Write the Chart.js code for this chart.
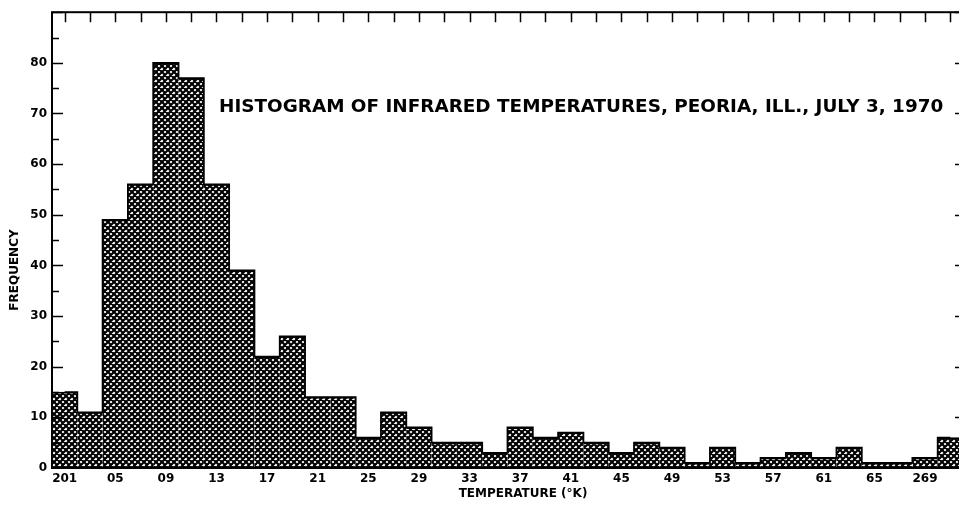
<!DOCTYPE html>
<html>
<head>
<meta charset="utf-8">
<script src="https://cdn.jsdelivr.net/npm/chart.js@4/dist/chart.umd.min.js"></script>
<style>
html, body { margin: 0; padding: 0; background: #fff; overflow: hidden; }
</style>
</head>
<body>
<canvas id="histChart" width="980" height="511"></canvas>
<script>
// Bin centres (deg K), 2-degree bins
const bins = ["201", "203", "205", "207", "209", "211", "213", "215", "217", "219",
              "221", "223", "225", "227", "229", "231", "233", "235", "237", "239",
              "241", "243", "245", "247", "249", "251", "253", "255", "257", "259",
              "261", "263", "265", "267", "269", "271"];

const counts = [15, 11, 49, 56, 80, 77, 56, 39, 22, 26,
                14, 14, 6, 11, 8, 5, 5, 3, 8, 6,
                7, 5, 3, 5, 4, 1, 4, 1, 2, 3,
                2, 4, 1, 1, 2, 6];

// Labels printed under every other bin
const tickLabels = ["201", "05", "09", "13", "17", "21", "25", "29", "33",
                    "37", "41", "45", "49", "53", "57", "61", "65", "269"];

const chartTitle = "HISTOGRAM OF INFRARED TEMPERATURES, PEORIA, ILL., JULY 3, 1970";
const xTitle = "TEMPERATURE (°K)";
const yTitle = "FREQUENCY";

const FONT = "'DejaVu Sans', sans-serif";

// Cross-hatch fill (two sets of 45 degree lines)
function makeHatch() {
    const s = 6;
    const tile = document.createElement("canvas");
    tile.width = s;
    tile.height = s;
    const tctx = tile.getContext("2d");
    tctx.fillStyle = "#fff";
    tctx.fillRect(0, 0, s, s);
    tctx.strokeStyle = "#000";
    tctx.lineWidth = 2.2;
    tctx.beginPath();
    for (let k = -2; k <= 2; k++) {
        tctx.moveTo(k * s - s, -s);
        tctx.lineTo(k * s + 2 * s, 2 * s);
        tctx.moveTo(k * s - s, 2 * s);
        tctx.lineTo(k * s + 2 * s, -s);
    }
    tctx.stroke();
    return tctx.createPattern(tile, "repeat");
}

// Frame, inward ticks and text
const framePlugin = {
    id: "frame",
    afterDraw(chart) {
        const { ctx, chartArea: a, scales } = chart;
        const x = scales.x, y = scales.y;
        ctx.save();
        ctx.strokeStyle = "#000";
        ctx.lineWidth = 2;
        ctx.strokeRect(a.left, a.top, a.right - a.left, a.bottom - a.top);

        ctx.lineWidth = 1.5;
        ctx.beginPath();
        // top ticks, one per bin
        bins.forEach((b, i) => {
            const px = Math.round(x.getPixelForValue(i)) + 0.5;
            ctx.moveTo(px, a.top);
            ctx.lineTo(px, a.top + 10);
        });
        // left / right ticks
        y.ticks.forEach(t => {
            if (t.value === 0) return;
            const py = Math.round(y.getPixelForValue(t.value)) + 0.5;
            const major = t.value % 10 === 0;
            ctx.moveTo(a.left, py);
            ctx.lineTo(a.left + (major ? 11 : 7), py);
            if (major) {
                ctx.moveTo(a.right, py);
                ctx.lineTo(a.right - 8, py);
            }
        });
        ctx.stroke();

        ctx.fillStyle = "#000";
        ctx.font = "bold 18.4px " + FONT;
        ctx.textAlign = "left";
        ctx.textBaseline = "middle";
        ctx.fillText(chartTitle, 219, 107);

        ctx.font = "bold 12px " + FONT;
        ctx.textAlign = "center";
        ctx.fillText(xTitle, 523, 494);

        ctx.translate(15, 270);
        ctx.rotate(-Math.PI / 2);
        ctx.fillText(yTitle, 0, 0);
        ctx.restore();
    }
};

const ctx = document.getElementById("histChart").getContext("2d");

new Chart(ctx, {
    data: {
        labels: bins,
        datasets: [{
            // step outline of the histogram
            type: "line",
            data: counts,
            stepped: "middle",
            borderColor: "#000",
            borderWidth: 1.8,
            pointRadius: 0,
            fill: false,
            order: 0
        }, {
            type: "bar",
            data: counts,
            backgroundColor: makeHatch(),
            borderColor: "#000",
            borderWidth: { top: 1.8, left: 0, right: 0, bottom: 0 },
            borderSkipped: "bottom",
            barPercentage: 1,
            categoryPercentage: 1,
            order: 1
        }]
    },
    options: {
        responsive: false,
        animation: false,
        layout: {
            padding: { top: 10, right: 17, left: 0, bottom: 0 }
        },
        plugins: {
            legend: { display: false },
            tooltip: { enabled: false }
        },
        scales: {
            x: {
                offset: true,
                grid: { display: false, drawTicks: false },
                border: { display: false },
                ticks: {
                    autoSkip: false,
                    maxRotation: 0,
                    padding: 4,
                    color: "#000",
                    font: { family: FONT, size: 12, weight: "bold" },
                    callback: (val, i) => (i % 2 === 0 ? tickLabels[i / 2] : "")
                },
                afterFit: scale => { scale.height = 43; }
            },
            y: {
                min: 0,
                max: 90,
                grid: { display: false, drawTicks: false },
                border: { display: false },
                ticks: {
                    stepSize: 5,
                    padding: 5,
                    color: "#000",
                    font: { family: FONT, size: 12, weight: "bold" },
                    callback: v => (v % 10 === 0 && v < 90 ? v : "")
                },
                afterFit: scale => { scale.width = 52; }
            }
        }
    },
    plugins: [framePlugin]
});
</script>
</body>
</html>
